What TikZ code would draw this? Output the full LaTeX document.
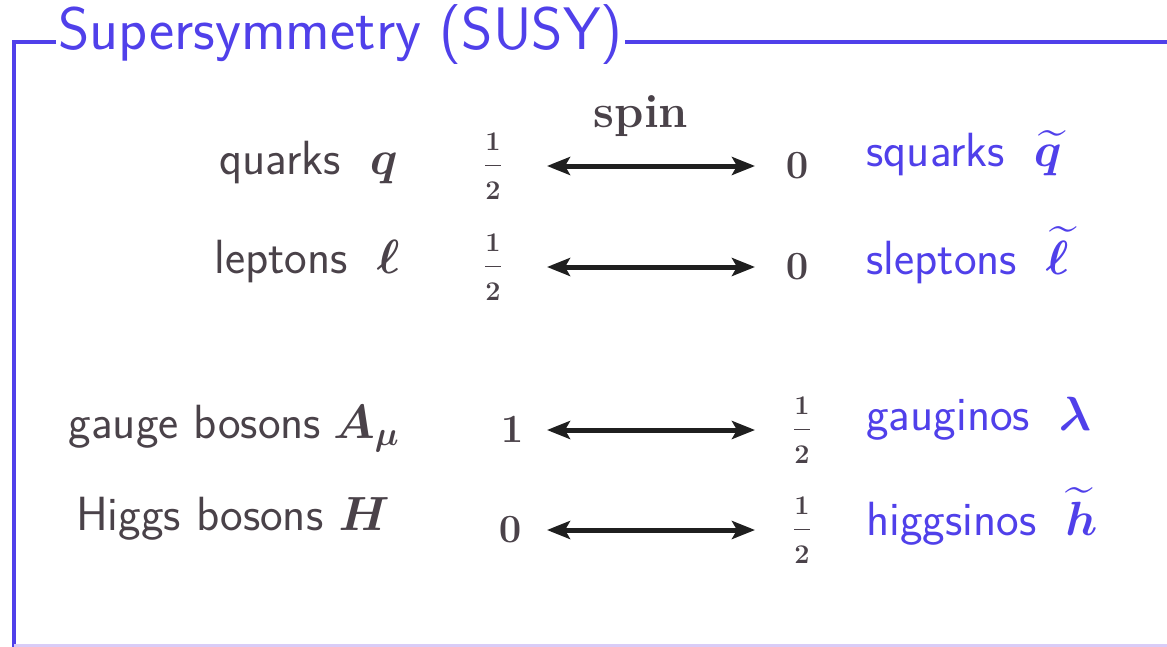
\documentclass[tikz,border=0pt]{standalone}
\usepackage{fix-cm}
\usepackage{amsmath}
\usepackage{bm}
\usetikzlibrary{arrows.meta}
\definecolor{susyblue}{HTML}{5040EA}
\definecolor{smgray}{HTML}{4A4249}
\definecolor{framelow}{HTML}{D9CCF7}
% spin 1/2 with the wide gaps of the slide
\newcommand{\spinhalf}{{\fontsize{13.5}{16}\selectfont$\dfrac{1\rule[-5.7pt]{0pt}{0pt}}{\rule{0pt}{14.7pt}2}$}}

\begin{document}
\begin{tikzpicture}[x=0.5pt,y=-0.5pt,
  sm/.style={anchor=base east, inner sep=0pt, text=smgray, font=\fontsize{24}{28}\selectfont\sffamily},
  sp/.style={anchor=base west, inner sep=0pt, text=susyblue, font=\fontsize{24}{28}\selectfont\sffamily},
  spinL/.style={anchor=east, inner sep=0pt, outer sep=0pt, text=smgray, font=\fontsize{20}{24}\selectfont\boldmath},
  spinR/.style={anchor=west, inner sep=0pt, outer sep=0pt, text=smgray, font=\fontsize{20}{24}\selectfont\boldmath},
  arr/.style={{Stealth[length=11.5pt,width=9pt,inset=2.5pt]}-{Stealth[length=11.5pt,width=9pt,inset=2.5pt]}, line width=2.5pt, color=black!88},
  frame/.style={line width=2pt, draw=susyblue},
]
\useasboundingbox (0,0) rectangle (1167,647);

% Frame and title
\node[anchor=base west, inner sep=0pt, text=susyblue, font=\fontsize{30}{36}\selectfont\sffamily] (title) at (58,50) {Supersymmetry (SUSY)};
\draw[frame] (56,42) -- (14,42) -- (14,647);
\draw[frame] (625,42) -- (1167,42);
\draw[framelow, line width=1.5pt] (14,645) -- (1167,645);

\node[anchor=base, inner sep=0pt, text=smgray, font=\fontsize{23.5}{28}\selectfont\rmfamily\bfseries] (spin) at (641,127) {spin};

% SM particles (left)
\node[sm] (q) at (398,175) {quarks\hspace{0.6em}$\bm{q}$};
\node[sm] (l) at (400,273) {leptons\hspace{0.6em}$\bm{\ell}$};
\node[sm] (A) at (400,438) {gauge bosons\hspace{0.25em}$\bm{A_\mu}$};
\node[sm] (H) at (390,530) {Higgs bosons $\bm{H}$};

% Spins
\node[spinL, minimum width=54pt] (q1) at (547,166) {\spinhalf};
\node[spinR, minimum width=42pt] (q2) at (755,166) {$0$};
\node[spinL, minimum width=54pt] (l1) at (547,267) {\spinhalf};
\node[spinR, minimum width=42pt] (l2) at (755,267) {$0$};
\node[spinL, minimum width=35pt] (A1) at (547,430) {$1$};
\node[spinR, minimum width=47pt] (A2) at (755,430) {\spinhalf};
\node[spinL, minimum width=37pt] (H1) at (547,530) {$0$};
\node[spinR, minimum width=47pt] (H2) at (755,530) {\spinhalf};

% Superpartners (right)
\node[sp] (sq) at (866,167) {squarks\hspace{0.6em}$\bm{\widetilde{q}}$};
\node[sp] (sl) at (866,274) {sleptons\hspace{0.6em}$\bm{\widetilde{\ell}}$};
\node[sp] (gl) at (866,430) {gauginos\hspace{0.6em}$\bm{\lambda}$};
\node[sp] (hs) at (866,535) {higgsinos\hspace{0.6em}$\bm{\widetilde{h}}$};

% Arrows
\draw[arr] (q1) -- (q2);
\draw[arr] (l1) -- (l2);
\draw[arr] (A1) -- (A2);
\draw[arr] (H1) -- (H2);
\end{tikzpicture}
\end{document}
